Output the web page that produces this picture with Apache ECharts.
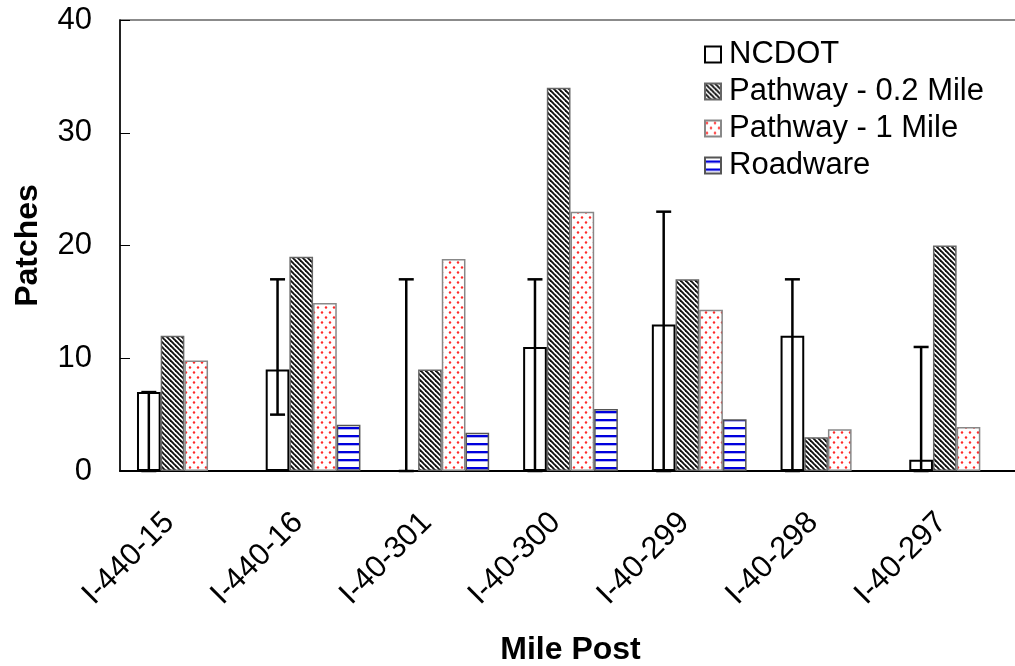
<!DOCTYPE html>
<html>
<head>
<meta charset="utf-8">
<script src="https://cdn.jsdelivr.net/npm/echarts@6/dist/echarts.min.js"></script>
<style>html,body{margin:0;padding:0;background:#fff}#c{width:1015px;height:666px}</style>
</head>
<body>
<div id="c"></div>
<script>
const categories = ['I-440-15','I-440-16','I-40-301','I-40-300','I-40-299','I-40-298','I-40-297'];
const ncdot = [7, 9, 0, 11, 13, 12, 1];
const ncdotLow = [0, 5, 0, 0, 0, 0, 0];
const ncdotHigh = [7, 17, 17, 17, 23, 17, 11];
const pathway02 = [12, 19, 9, 34, 17, 3, 20];
const pathway1 = [9.8, 14.9, 18.8, 23, 14.3, 3.7, 3.9];
const roadware = [null, 4.1, 3.4, 5.5, 4.6, null, null];
const yTicks = [0, 10, 20, 30, 40];

const FONT = 'Liberation Sans, Arial, sans-serif';
const GAP = 0.264;

function tile(w, h, draw) {
  const c = document.createElement('canvas');
  c.width = w; c.height = h;
  const ctx = c.getContext('2d');
  ctx.fillStyle = '#fff'; ctx.fillRect(0, 0, w, h);
  draw(ctx, w, h);
  return c;
}
const hatch = tile(5, 5, (ctx, w, h) => {
  ctx.strokeStyle = '#111'; ctx.lineWidth = 1.9;
  for (const off of [-w, 0, w]) {
    ctx.beginPath(); ctx.moveTo(off - 1, -1); ctx.lineTo(off + w + 1, h + 1); ctx.stroke();
  }
});
const dots = tile(8, 10, (ctx) => {
  ctx.fillStyle = '#ff2a2a';
  ctx.beginPath(); ctx.arc(2, 2.5, 1.2, 0, Math.PI * 2); ctx.fill();
  ctx.beginPath(); ctx.arc(6, 7.5, 1.2, 0, Math.PI * 2); ctx.fill();
});
const hlines = tile(8, 8, (ctx) => {
  ctx.fillStyle = '#0000dd'; ctx.fillRect(0, 3, 8, 2);
  ctx.fillStyle = '#b0b0f0'; ctx.fillRect(0, 5, 8, 1);
});

const errData = categories.map((c, i) => [i, ncdotLow[i], ncdotHigh[i]]);

const chart = echarts.init(document.getElementById('c'), null, {renderer: 'canvas'});
chart.setOption({
  animation: false,
  backgroundColor: '#fff',
  textStyle: {fontFamily: FONT},
  grid: {left: 120, top: 20, bottom: 195, right: -6, outerBoundsMode: 'none', containLabel: false,
    show: true, borderColor: '#666', borderWidth: 1.5, backgroundColor: 'transparent'},
  legend: {
    orient: 'vertical', left: 699, top: 34, itemGap: 6, itemWidth: 16, itemHeight: 16,
    icon: 'rect',
    data: ['NCDOT', 'Pathway - 0.2 Mile', 'Pathway - 1 Mile', 'Roadware'],
    textStyle: {fontSize: 31, color: '#000', fontFamily: FONT, padding: [0, 0, 0, 3]}
  },
  xAxis: {
    type: 'category', data: categories,
    name: 'Mile Post', nameLocation: 'middle', nameGap: 163,
    nameTextStyle: {fontSize: 32, fontWeight: 'bold', color: '#000', fontFamily: FONT},
    axisLine: {lineStyle: {color: '#000', width: 2}},
    axisTick: {inside: true, length: 9, lineStyle: {color: '#000', width: 1}},
    axisLabel: {rotate: 45, fontSize: 31, color: '#000', margin: 32, padding: [0, 21, 0, 0],
      fontFamily: FONT, interval: 0}
  },
  yAxis: {
    type: 'value', min: 0, max: 40, interval: 10,
    name: 'Patches', nameLocation: 'middle', nameGap: 76, nameRotate: 90,
    nameTextStyle: {fontSize: 32, fontWeight: 'bold', color: '#000', fontFamily: FONT},
    axisLine: {show: true, lineStyle: {color: '#000', width: 1.5}},
    axisTick: {show: true, inside: true, length: 10, lineStyle: {color: '#000', width: 1}},
    axisLabel: {fontSize: 31, color: '#000', margin: 28, fontFamily: FONT,
      formatter: v => yTicks.includes(v) ? String(v) : ''},
    splitLine: {show: false}
  },
  series: [
    {name: 'NCDOT', type: 'bar', data: ncdot, barGap: '0%', barCategoryGap: (GAP * 100) + '%',
      itemStyle: {color: '#fff', borderColor: '#000', borderWidth: 2}},
    {name: 'Pathway - 0.2 Mile', type: 'bar', data: pathway02,
      itemStyle: {color: {image: hatch, repeat: 'repeat'}, borderColor: '#666', borderWidth: 1.5}},
    {name: 'Pathway - 1 Mile', type: 'bar', data: pathway1,
      itemStyle: {color: {image: dots, repeat: 'repeat'}, borderColor: '#888', borderWidth: 1.5}},
    {name: 'Roadware', type: 'bar', data: roadware,
      itemStyle: {color: {image: hlines, repeat: 'repeat'}, borderColor: '#555', borderWidth: 1.5}},
    {name: 'err', type: 'custom', data: errData, z: 10, silent: true,
      renderItem: function (params, api) {
        const idx = api.value(0);
        const band = api.size([1, 0])[0];
        const bw = band * (1 - GAP) / 4;
        const x = api.coord([idx, 0])[0] - 1.5 * bw;
        const yl = api.coord([idx, api.value(1)])[1];
        const yh = api.coord([idx, api.value(2)])[1];
        const hw = 7.5;
        const st = {stroke: '#000', lineWidth: 2.5};
        return {type: 'group', children: [
          {type: 'line', shape: {x1: x, y1: yl, x2: x, y2: yh}, style: st},
          {type: 'line', shape: {x1: x - hw, y1: yh, x2: x + hw, y2: yh}, style: st},
          {type: 'line', shape: {x1: x - hw, y1: yl, x2: x + hw, y2: yl}, style: st}
        ]};
      }
    }
  ]
});
</script>
</body>
</html>
